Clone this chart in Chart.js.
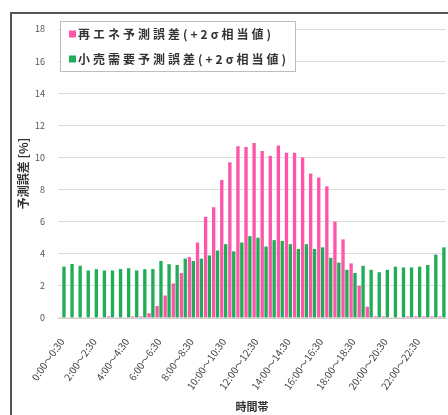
<!DOCTYPE html>
<html lang="ja">
<head>
<meta charset="utf-8">
<script src="https://cdn.jsdelivr.net/npm/chart.js@4"></script>
<style>
  html, body { margin: 0; padding: 0; background: #fff; overflow: hidden; }
  #wrap { position: relative; width: 448px; height: 415px; }
</style>
</head>
<body>
<div id="wrap"><canvas id="chart" width="448" height="415"></canvas></div>
<script>
const timeSlots = [
  '0:00～0:30', '0:30～1:00', '1:00～1:30', '1:30～2:00',
  '2:00～2:30', '2:30～3:00', '3:00～3:30', '3:30～4:00',
  '4:00～4:30', '4:30～5:00', '5:00～5:30', '5:30～6:00',
  '6:00～6:30', '6:30～7:00', '7:00～7:30', '7:30～8:00',
  '8:00～8:30', '8:30～9:00', '9:00～9:30', '9:30～10:00',
  '10:00～10:30', '10:30～11:00', '11:00～11:30', '11:30～12:00',
  '12:00～12:30', '12:30～13:00', '13:00～13:30', '13:30～14:00',
  '14:00～14:30', '14:30～15:00', '15:00～15:30', '15:30～16:00',
  '16:00～16:30', '16:30～17:00', '17:00～17:30', '17:30～18:00',
  '18:00～18:30', '18:30～19:00', '19:00～19:30', '19:30～20:00',
  '20:00～20:30', '20:30～21:00', '21:00～21:30', '21:30～22:00',
  '22:00～22:30', '22:30～23:00', '23:00～23:30', '23:30～24:00'
];

// 再エネ予測誤差 (+2σ相当値) [%]
const renewableError = [
  0.05, 0.05, 0.05, 0.05, 0.05, 0.05, 0.1, 0.05, 0.05, 0.1, 0.1, 0.3,
  0.75, 1.4, 2.15, 2.8, 3.8, 4.7, 6.3, 6.9, 8.6, 9.7, 10.7, 10.65,
  10.9, 10.4, 10.1, 10.75, 10.3, 10.3, 10.0, 9.0, 8.75, 8.2, 6.0, 4.9,
  3.4, 2.0, 0.7, 0.1, 0.1, 0.05, 0.05, 0.1, 0.1, 0.1, 0.1, 0.1
];

// 小売需要予測誤差 (+2σ相当値) [%]
const demandError = [
  3.2, 3.37, 3.25, 2.96, 3.04, 2.96, 2.96, 3.05, 3.1, 2.96, 3.04, 3.05,
  3.55, 3.35, 3.3, 3.7, 3.55, 3.7, 3.9, 4.2, 4.6, 4.15, 4.7, 5.1,
  5.0, 4.45, 4.85, 4.8, 4.6, 4.3, 4.6, 4.3, 4.4, 3.75, 3.45, 3.0,
  2.8, 3.25, 3.0, 2.85, 3.0, 3.2, 3.15, 3.15, 3.2, 3.3, 3.95, 4.4
];

const yTicks = [0, 2, 4, 6, 8, 10, 12, 14, 16, 18];

const PINK = '#ff55a8';
const GREEN = '#1fae57';
const JP_FONT = "'Noto Sans CJK JP', 'Noto Sans', sans-serif";

// outer frame of the pasted Excel chart (cropped on right/bottom)
const framePlugin = {
  id: 'frame',
  beforeDraw(chart) {
    const ctx = chart.ctx;
    ctx.save();
    ctx.fillStyle = '#fff';
    ctx.fillRect(0, 0, chart.width, chart.height);
    ctx.strokeStyle = '#555';
    ctx.lineWidth = 2;
    ctx.beginPath();
    ctx.moveTo(11, chart.height + 2);
    ctx.lineTo(11, 13);
    ctx.lineTo(chart.width + 2, 13);
    ctx.stroke();
    ctx.restore();
  }
};

// legend box drawn inside the plot area
const boxLegendPlugin = {
  id: 'boxLegend',
  afterDatasetsDraw(chart) {
    const ctx = chart.ctx;
    ctx.save();
    ctx.fillStyle = '#fff';
    ctx.fillRect(61, 22, 234, 49);
    ctx.strokeStyle = '#bdbdbd';
    ctx.lineWidth = 1;
    ctx.strokeRect(60.5, 21.5, 235, 50);
    ctx.font = `bold 12px ${JP_FONT}`;
    ctx.textBaseline = 'middle';
    ctx.letterSpacing = '3px';
    chart.data.datasets.forEach((ds, i) => {
      const y = 34 + i * 25;
      ctx.fillStyle = ds.backgroundColor;
      ctx.fillRect(69, y - 3.5, 7, 7);
      ctx.fillStyle = '#333';
      ctx.fillText(ds.label, 78, y + 0.5);
    });
    ctx.restore();
  }
};

new Chart(document.getElementById('chart'), {
  type: 'bar',
  data: {
    labels: timeSlots,
    datasets: [
      { label: '再エネ予測誤差(+2σ相当値)', data: renewableError, backgroundColor: PINK },
      { label: '小売需要予測誤差(+2σ相当値)', data: demandError, backgroundColor: GREEN }
    ]
  },
  options: {
    responsive: false,
    animation: false,
    devicePixelRatio: 1,
    categoryPercentage: 0.96,
    barPercentage: 0.86,
    layout: { padding: { top: 29, right: 2, left: 0, bottom: 0 } },
    plugins: {
      legend: { display: false },
      tooltip: { enabled: false }
    },
    scales: {
      x: {
        grid: { display: false, drawTicks: false },
        border: { color: '#cfcfcf' },
        ticks: {
          autoSkip: false,
          minRotation: 55,
          maxRotation: 55,
          padding: 18,
          color: '#444',
          font: { family: JP_FONT, size: 10 },
          callback: (v, i) => (i % 4 === 0 ? timeSlots[i] : '')
        },
        title: {
          display: true,
          text: '時間帯',
          color: '#333',
          font: { family: JP_FONT, size: 11, weight: 'bold' },
          padding: { top: 0, bottom: 1.5 }
        },
        afterFit(scale) {
          scale.height = 97;
          scale.paddingLeft = 0;
          scale.paddingRight = 0;
        }
      },
      y: {
        min: 0,
        max: 18,
        afterBuildTicks(scale) { scale.ticks = yTicks.map(v => ({ value: v })); },
        grid: { color: '#dcdcdc', drawTicks: false },
        border: { display: false },
        ticks: {
          padding: 13,
          color: '#555',
          font: { family: JP_FONT, size: 9 }
        },
        title: {
          display: true,
          text: '予測誤差 [%]',
          color: '#333',
          font: { family: JP_FONT, size: 12, weight: 'bold' },
          padding: { top: 16, bottom: 0 }
        },
        afterFit(scale) { scale.width = 58; }
      }
    }
  },
  plugins: [framePlugin, boxLegendPlugin]
});
</script>
</body>
</html>
